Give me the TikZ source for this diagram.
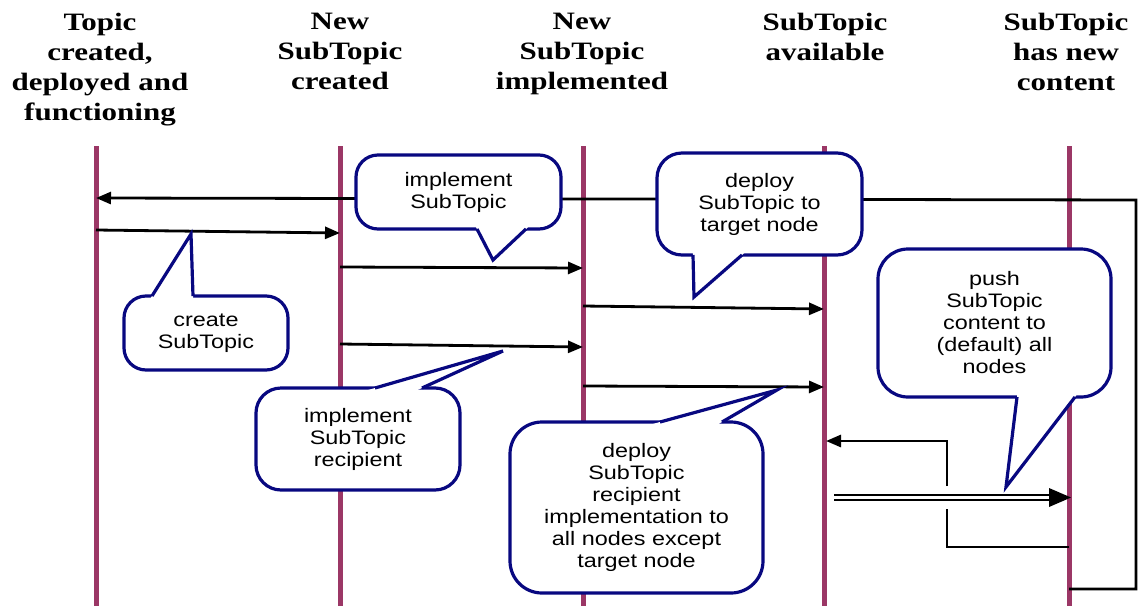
\documentclass[tikz,border=0pt]{standalone}
\usepackage{fontspec}
\setmainfont[FakeStretch=1.24]{Liberation Serif}
\setsansfont[FakeStretch=1.2]{Liberation Sans}
\usetikzlibrary{arrows.meta,calc}
\definecolor{lifec}{RGB}{155,55,102}
\definecolor{calloutc}{RGB}{8,8,128}
\newcommand{\myptr}[3]{%
  \fill[white] ($#1!-7pt!#2$) -- #2 -- ($#3!-7pt!#2$) -- cycle;
  \draw[ptr] #1 -- #2 -- #3;}
\begin{document}
\begin{tikzpicture}[x=1pt,y=-1pt,
  head/.style={font=\bfseries\fontsize{25}{30}\selectfont, align=center, inner sep=0pt, anchor=north},
  lifeline/.style={draw=lifec, line width=5pt},
  msg/.style={draw=black, line width=2.8pt, -{Triangle[length=15pt,width=12pt]}},
  plainline/.style={draw=black, line width=2.8pt},
  callbox/.style={draw=calloutc, fill=white, line width=3.2pt, rounded corners=22pt, align=center,
    font=\sffamily\fontsize{19.5}{22}\selectfont, inner sep=0pt},
  ptr/.style={draw=calloutc, line width=3.2pt, line join=miter}
]
\useasboundingbox (0,0) rectangle (1144,606);

% headers
\node[head] (h1) at (100,13) {Topic\\created,\\deployed and\\functioning};
\node[head] (h2) at (340,13) {New\\SubTopic\\created};
\node[head] (h3) at (582,13) {New\\SubTopic\\implemented};
\node[head] (h4) at (825,13) {SubTopic\\available};
\node[head] (h5) at (1066,13) {SubTopic\\has new\\content};

% lifelines
\coordinate (L1t) at (96,146);  \coordinate (L1b) at (96,606);
\coordinate (L2t) at (340,146); \coordinate (L2b) at (340,606);
\coordinate (L3t) at (583,146); \coordinate (L3b) at (583,606);
\coordinate (L4t) at (824,146); \coordinate (L4b) at (824,606);
\coordinate (L5t) at (1069,146);\coordinate (L5b) at (1069,606);
\foreach \i in {1,...,5} {\draw[lifeline] (L\i t) -- (L\i b);}

% messages
\coordinate (loopA) at (1136,589);
\coordinate (loopB) at (1136,200);
\draw[msg] (L5t |- 0,589) -- (loopA) -- (loopB) -- (L1t |- 0,198);
\draw[msg] (L1t |- 0,230) -- (L2t |- 0,233);
\draw[msg] (L2t |- 0,267) -- (L3t |- 0,268);
\draw[msg] (L3t |- 0,306) -- (L4t |- 0,309);
\draw[msg] (L2t |- 0,344) -- (L3t |- 0,347);
\draw[msg] (L3t |- 0,386) -- (L4t |- 0,387);

% return arrow with gap
\coordinate (rA) at (947,547);
\coordinate (rB) at (947,509);
\coordinate (rC) at (947,486);
\coordinate (rD) at (947,441);
\draw[plainline] (L5t |- 0,547) -- (rA) -- (rB);
\draw[msg] (rC) -- (rD) -- ($(L4t |- 0,441)+(2,0)$);

% double arrow
\coordinate (dS) at ($(L4t |- 0,497.5)+(10,0)$);
\coordinate (dE) at ($(L5t |- 0,497.5)+(-18,0)$);
\coordinate (dTip) at ($(L5t |- 0,497.5)+(2,0)$);
\draw[line width=2pt, double=white, double distance=3.2pt] (dS) -- (dE);
\fill[black] (dTip) -- ++(-22,-9.5) -- ++(0,19) -- cycle;

% callouts
\node[callbox, minimum width=205pt, minimum height=74pt] (cImpl) at (458.5,192) {implement\\SubTopic};
\myptr{(477,229)}{(493,260)}{(526,229)}

\node[callbox, minimum width=164pt, minimum height=74pt] (cCreate) at (206,333) {create\\SubTopic};
\myptr{(152,296)}{(191,234)}{(193,296)}

\node[callbox, minimum width=205pt, minimum height=102pt, rounded corners=25pt] (cDeploy) at (759.5,204) {deploy\\SubTopic to\\target node};
\myptr{(693,255)}{(694,297)}{(742,255)}

\node[callbox, minimum width=233pt, minimum height=148pt, rounded corners=30pt] (cPush) at (994.5,323) {push\\SubTopic\\content to\\(default) all\\nodes};
\myptr{(1017,397)}{(1006,487)}{(1075,397)}

\node[callbox, minimum width=204pt, minimum height=102pt, rounded corners=25pt] (cImplRec) at (358,439) {implement\\SubTopic\\recipient};
\myptr{(375,388)}{(503,351)}{(422,388)}

\node[callbox, minimum width=253pt, minimum height=171pt, rounded corners=32pt] (cDeployRec) at (636.5,507.5) {deploy\\SubTopic\\recipient\\implementation to\\all nodes except\\target node};
\myptr{(660,422)}{(777,390)}{(722,422)}
\end{tikzpicture}
\end{document}
